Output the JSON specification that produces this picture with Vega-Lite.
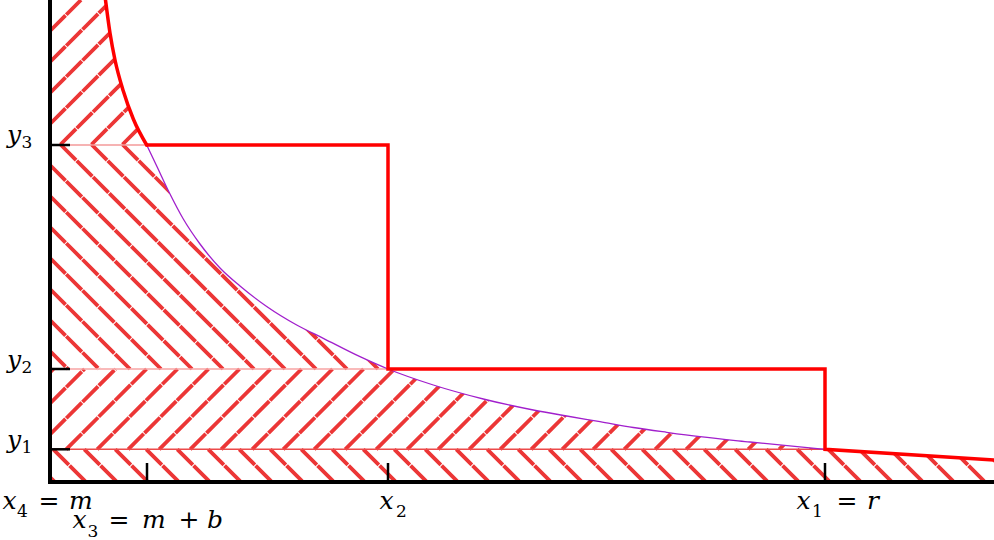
{
  "$schema": "https://vega.github.io/schema/vega-lite/v6.json",
  "width": 994,
  "height": 540,
  "autosize": {"type": "none"},
  "padding": 0,
  "background": "white",
  "config": {"view": {"stroke": null}},
  "datasets": {
    "hatch": [
      {"x": 0, "y": 0.5, "x2": 0.5, "y2": 0},
      {"x": 0.33, "y": 3.27, "x2": 3.6, "y2": 0},
      {"x": 3.43, "y": 3.27, "x2": 6.7, "y2": 0},
      {"x": 6.53, "y": 3.27, "x2": 9.8, "y2": 0},
      {"x": 9.63, "y": 3.27, "x2": 12.9, "y2": 0},
      {"x": 12.73, "y": 3.27, "x2": 16.0, "y2": 0},
      {"x": 15.83, "y": 3.27, "x2": 19.1, "y2": 0},
      {"x": 18.93, "y": 3.27, "x2": 22.2, "y2": 0},
      {"x": 22.03, "y": 3.27, "x2": 25.3, "y2": 0},
      {"x": 25.13, "y": 3.27, "x2": 28.4, "y2": 0},
      {"x": 28.23, "y": 3.27, "x2": 31.5, "y2": 0},
      {"x": 31.33, "y": 3.27, "x2": 34.6, "y2": 0},
      {"x": 34.43, "y": 3.27, "x2": 37.7, "y2": 0},
      {"x": 37.53, "y": 3.27, "x2": 40.8, "y2": 0},
      {"x": 40.63, "y": 3.27, "x2": 43.9, "y2": 0},
      {"x": 43.73, "y": 3.27, "x2": 47.0, "y2": 0},
      {"x": 46.83, "y": 3.27, "x2": 50.1, "y2": 0},
      {"x": 49.93, "y": 3.27, "x2": 53.2, "y2": 0},
      {"x": 53.03, "y": 3.27, "x2": 56.3, "y2": 0},
      {"x": 56.13, "y": 3.27, "x2": 59.4, "y2": 0},
      {"x": 59.23, "y": 3.27, "x2": 62.5, "y2": 0},
      {"x": 62.33, "y": 3.27, "x2": 65.6, "y2": 0},
      {"x": 65.43, "y": 3.27, "x2": 68.7, "y2": 0},
      {"x": 68.53, "y": 3.27, "x2": 71.8, "y2": 0},
      {"x": 71.63, "y": 3.27, "x2": 74.9, "y2": 0},
      {"x": 74.73, "y": 3.27, "x2": 78.0, "y2": 0},
      {"x": 77.83, "y": 3.27, "x2": 81.1, "y2": 0},
      {"x": 80.93, "y": 3.27, "x2": 84.2, "y2": 0},
      {"x": 84.03, "y": 3.27, "x2": 87.3, "y2": 0},
      {"x": 87.13, "y": 3.27, "x2": 90.4, "y2": 0},
      {"x": 90.23, "y": 3.27, "x2": 93.5, "y2": 0},
      {"x": 93.33, "y": 3.27, "x2": 96.6, "y2": 0},

      {"x": 0, "y": 10.95, "x2": 0.35, "y2": 11.3},
      {"x": 0, "y": 7.85, "x2": 3.45, "y2": 11.3},
      {"x": 0, "y": 4.75, "x2": 6.55, "y2": 11.3},
      {"x": 1.62, "y": 3.27, "x2": 9.65, "y2": 11.3},
      {"x": 4.72, "y": 3.27, "x2": 12.75, "y2": 11.3},
      {"x": 7.82, "y": 3.27, "x2": 15.85, "y2": 11.3},
      {"x": 10.92, "y": 3.27, "x2": 18.95, "y2": 11.3},
      {"x": 14.02, "y": 3.27, "x2": 22.05, "y2": 11.3},
      {"x": 17.12, "y": 3.27, "x2": 25.15, "y2": 11.3},
      {"x": 20.22, "y": 3.27, "x2": 28.25, "y2": 11.3},
      {"x": 23.32, "y": 3.27, "x2": 31.35, "y2": 11.3},
      {"x": 26.42, "y": 3.27, "x2": 34.45, "y2": 11.3},
      {"x": 29.52, "y": 3.27, "x2": 37.55, "y2": 11.3},
      {"x": 32.62, "y": 3.27, "x2": 40.65, "y2": 11.3},
      {"x": 35.72, "y": 3.27, "x2": 43.75, "y2": 11.3},
      {"x": 38.82, "y": 3.27, "x2": 46.85, "y2": 11.3},
      {"x": 41.92, "y": 3.27, "x2": 49.95, "y2": 11.3},
      {"x": 45.02, "y": 3.27, "x2": 53.05, "y2": 11.3},
      {"x": 48.12, "y": 3.27, "x2": 56.15, "y2": 11.3},
      {"x": 51.22, "y": 3.27, "x2": 59.25, "y2": 11.3},
      {"x": 54.32, "y": 3.27, "x2": 62.35, "y2": 11.3},
      {"x": 57.42, "y": 3.27, "x2": 65.45, "y2": 11.3},
      {"x": 60.52, "y": 3.27, "x2": 68.55, "y2": 11.3},
      {"x": 63.62, "y": 3.27, "x2": 71.65, "y2": 11.3},
      {"x": 66.72, "y": 3.27, "x2": 74.75, "y2": 11.3},
      {"x": 69.82, "y": 3.27, "x2": 77.85, "y2": 11.3},
      {"x": 72.92, "y": 3.27, "x2": 80.95, "y2": 11.3},
      {"x": 76.02, "y": 3.27, "x2": 84.05, "y2": 11.3},

      {"x": 0, "y": 13.1, "x2": 1.8, "y2": 11.3},
      {"x": 0, "y": 16.2, "x2": 4.9, "y2": 11.3},
      {"x": 0, "y": 19.3, "x2": 8.0, "y2": 11.3},
      {"x": 0, "y": 22.4, "x2": 11.1, "y2": 11.3},
      {"x": 0, "y": 25.5, "x2": 14.2, "y2": 11.3},
      {"x": 0, "y": 28.6, "x2": 17.3, "y2": 11.3},
      {"x": 0, "y": 31.7, "x2": 20.4, "y2": 11.3},
      {"x": 1.05, "y": 33.75, "x2": 23.5, "y2": 11.3},
      {"x": 4.15, "y": 33.75, "x2": 26.6, "y2": 11.3},
      {"x": 7.25, "y": 33.75, "x2": 29.7, "y2": 11.3},
      {"x": 10.35, "y": 33.75, "x2": 32.8, "y2": 11.3},

      {"x": 0, "y": 45.1, "x2": 3.1, "y2": 48.2},
      {"x": 0, "y": 42.0, "x2": 6.2, "y2": 48.2},
      {"x": 0, "y": 38.9, "x2": 9.3, "y2": 48.2},
      {"x": 0, "y": 35.8, "x2": 12.4, "y2": 48.2},
      {"x": 1.05, "y": 33.75, "x2": 15.5, "y2": 48.2},
      {"x": 4.15, "y": 33.75, "x2": 18.6, "y2": 48.2},
      {"x": 7.25, "y": 33.75, "x2": 21.7, "y2": 48.2}
    ],
    "cover": [
      {"x": 5.55, "y": 48.2},
      {"x": 6.0, "y": 44.9},
      {"x": 6.5, "y": 42.2},
      {"x": 7.33, "y": 39.1},
      {"x": 8.33, "y": 36.3},
      {"x": 9.67, "y": 33.7},
      {"x": 10.67, "y": 31.6},
      {"x": 12.0, "y": 28.8},
      {"x": 13.33, "y": 26.3},
      {"x": 15.0, "y": 23.8},
      {"x": 17.0, "y": 21.4},
      {"x": 19.0, "y": 19.6},
      {"x": 21.67, "y": 17.55},
      {"x": 24.67, "y": 15.7},
      {"x": 27.33, "y": 14.37},
      {"x": 31.0, "y": 12.53},
      {"x": 33.8, "y": 11.3},
      {"x": 38.33, "y": 9.7},
      {"x": 43.33, "y": 8.3},
      {"x": 48.33, "y": 7.2},
      {"x": 51.67, "y": 6.6},
      {"x": 55.0, "y": 6.03},
      {"x": 58.33, "y": 5.45},
      {"x": 61.67, "y": 4.97},
      {"x": 65.0, "y": 4.53},
      {"x": 70.0, "y": 4.0},
      {"x": 77.5, "y": 3.27},
      {"x": 94.4, "y": 2.2},
      {"x": 96.0, "y": 2.1}
    ],
    "topcurve": [
      {"x": 5.55, "y": 48.2},
      {"x": 6.0, "y": 44.9},
      {"x": 6.5, "y": 42.2},
      {"x": 7.33, "y": 39.1},
      {"x": 8.33, "y": 36.3},
      {"x": 9.67, "y": 33.7}
    ],
    "curve": [
      {"x": 9.67, "y": 33.7},
      {"x": 10.67, "y": 31.6},
      {"x": 12.0, "y": 28.8},
      {"x": 13.33, "y": 26.3},
      {"x": 15.0, "y": 23.8},
      {"x": 17.0, "y": 21.4},
      {"x": 19.0, "y": 19.6},
      {"x": 21.67, "y": 17.55},
      {"x": 24.67, "y": 15.7},
      {"x": 27.33, "y": 14.37},
      {"x": 31.0, "y": 12.53},
      {"x": 33.8, "y": 11.3},
      {"x": 38.33, "y": 9.7},
      {"x": 43.33, "y": 8.3},
      {"x": 48.33, "y": 7.2},
      {"x": 51.67, "y": 6.6},
      {"x": 55.0, "y": 6.03},
      {"x": 58.33, "y": 5.45},
      {"x": 61.67, "y": 4.97},
      {"x": 65.0, "y": 4.53},
      {"x": 70.0, "y": 4.0},
      {"x": 77.5, "y": 3.27}
    ],
    "step": [
      {"i": 0, "x": 9.67, "y": 33.7},
      {"i": 1, "x": 33.8, "y": 33.7},
      {"i": 2, "x": 33.8, "y": 11.3},
      {"i": 3, "x": 77.5, "y": 11.3},
      {"i": 4, "x": 77.5, "y": 3.27},
      {"i": 5, "x": 94.4, "y": 2.2}
    ],
    "levels": [
      {"level": "y1", "x": 0, "y": 3.27, "x2": 77.5, "y2": 3.27},
      {"level": "y2", "x": 0, "y": 11.3, "x2": 33.8, "y2": 11.3},
      {"level": "y3", "x": 0, "y": 33.7, "x2": 9.67, "y2": 33.7}
    ],
    "axes": [
      {"x": 0, "y": -0.2, "x2": 0, "y2": 48.5},
      {"x": -0.2, "y": 0, "x2": 94.6, "y2": 0}
    ],
    "ticks": [
      {"x": 0.2, "y": 3.27, "x2": 2.0, "y2": 3.27},
      {"x": 0.2, "y": 11.3, "x2": 2.0, "y2": 11.3},
      {"x": 0.2, "y": 33.7, "x2": 2.0, "y2": 33.7},
      {"x": 9.7, "y": 0, "x2": 9.7, "y2": 1.9},
      {"x": 33.8, "y": 0, "x2": 33.8, "y2": 1.9},
      {"x": 77.5, "y": 0, "x2": 77.5, "y2": 1.9}
    ],
    "labels": [
      {"part": "var", "t": "y", "x": -4.3, "y": 33.9},
      {"part": "sub", "t": "3", "x": -2.85, "y": 33.4},
      {"part": "var", "t": "y", "x": -4.3, "y": 11.45},
      {"part": "sub", "t": "2", "x": -2.85, "y": 10.95},
      {"part": "var", "t": "y", "x": -4.3, "y": 3.4},
      {"part": "sub", "t": "1", "x": -2.85, "y": 2.9},

      {"part": "var", "t": "x", "x": -4.75, "y": -2.73},
      {"part": "sub", "t": "4", "x": -3.3, "y": -3.47},
      {"part": "op", "t": "=", "x": -1.15, "y": -2.73},
      {"part": "var", "t": "m", "x": 1.9, "y": -2.73},

      {"part": "var", "t": "x", "x": 2.25, "y": -4.55},
      {"part": "sub", "t": "3", "x": 3.75, "y": -5.45},
      {"part": "op", "t": "=", "x": 5.85, "y": -4.55},
      {"part": "var", "t": "m", "x": 9.2, "y": -4.55},
      {"part": "op", "t": "+", "x": 12.85, "y": -4.55},
      {"part": "var", "t": "b", "x": 15.7, "y": -4.55},

      {"part": "var", "t": "x", "x": 32.95, "y": -2.73},
      {"part": "sub", "t": "2", "x": 34.6, "y": -3.47},

      {"part": "var", "t": "x", "x": 74.65, "y": -2.73},
      {"part": "sub", "t": "1", "x": 76.2, "y": -3.47},
      {"part": "op", "t": "=", "x": 78.65, "y": -2.73},
      {"part": "var", "t": "r", "x": 81.7, "y": -2.73}
    ]
  },
  "encoding": {
    "x": {"field": "x", "type": "quantitative", "axis": null, "scale": {"domain": [-5, 94.4], "nice": false, "zero": false}},
    "y": {"field": "y", "type": "quantitative", "axis": null, "scale": {"domain": [-5.8, 48.2], "nice": false, "zero": false}}
  },
  "layer": [
    {
      "data": {"name": "hatch"},
      "mark": {"type": "rule", "color": "#ec3636", "strokeWidth": 3.8, "strokeCap": "butt", "strokeDash": [22, 1]},
      "encoding": {"x2": {"field": "x2"}, "y2": {"field": "y2"}}
    },
    {
      "data": {"name": "cover"},
      "mark": {"type": "area", "color": "white", "opacity": 1, "interpolate": "monotone"},
      "encoding": {"y2": {"datum": 49.5}}
    },
    {
      "data": {"name": "levels"},
      "mark": {"type": "rule", "strokeWidth": 1.5},
      "encoding": {
        "x2": {"field": "x2"},
        "y2": {"field": "y2"},
        "color": {"field": "level", "type": "nominal", "legend": null, "scale": {"domain": ["y1", "y2", "y3"], "range": ["#ec4a4a", "#f7a3a3", "#f39a9a"]}}
      }
    },
    {
      "data": {"name": "curve"},
      "mark": {"type": "line", "color": "#a11fcc", "strokeWidth": 1.3, "interpolate": "monotone"},
      "encoding": {}
    },
    {
      "data": {"name": "topcurve"},
      "mark": {"type": "line", "color": "#ff0000", "strokeWidth": 3.5, "strokeCap": "round", "interpolate": "monotone"},
      "encoding": {}
    },
    {
      "data": {"name": "step"},
      "mark": {"type": "line", "color": "#ff0000", "strokeWidth": 3.5, "strokeCap": "round", "strokeJoin": "miter"},
      "encoding": {"order": {"field": "i", "type": "quantitative"}}
    },
    {
      "data": {"name": "axes"},
      "mark": {"type": "rule", "color": "black", "strokeWidth": 4},
      "encoding": {"x2": {"field": "x2"}, "y2": {"field": "y2"}}
    },
    {
      "data": {"name": "ticks"},
      "mark": {"type": "rule", "color": "black", "strokeWidth": 2.5},
      "encoding": {"x2": {"field": "x2"}, "y2": {"field": "y2"}}
    },
    {
      "data": {"name": "labels"},
      "transform": [{"filter": "datum.part === 'var'"}],
      "mark": {"type": "text", "align": "left", "baseline": "alphabetic", "font": "DejaVu Serif", "fontStyle": "italic", "fontSize": 25, "color": "black"},
      "encoding": {"text": {"field": "t"}}
    },
    {
      "data": {"name": "labels"},
      "transform": [{"filter": "datum.part === 'op'"}],
      "mark": {"type": "text", "align": "left", "baseline": "alphabetic", "font": "DejaVu Serif", "fontSize": 25, "color": "black"},
      "encoding": {"text": {"field": "t"}}
    },
    {
      "data": {"name": "labels"},
      "transform": [{"filter": "datum.part === 'sub'"}],
      "mark": {"type": "text", "align": "left", "baseline": "alphabetic", "font": "DejaVu Serif", "fontSize": 17, "color": "black"},
      "encoding": {"text": {"field": "t"}}
    }
  ]
}
